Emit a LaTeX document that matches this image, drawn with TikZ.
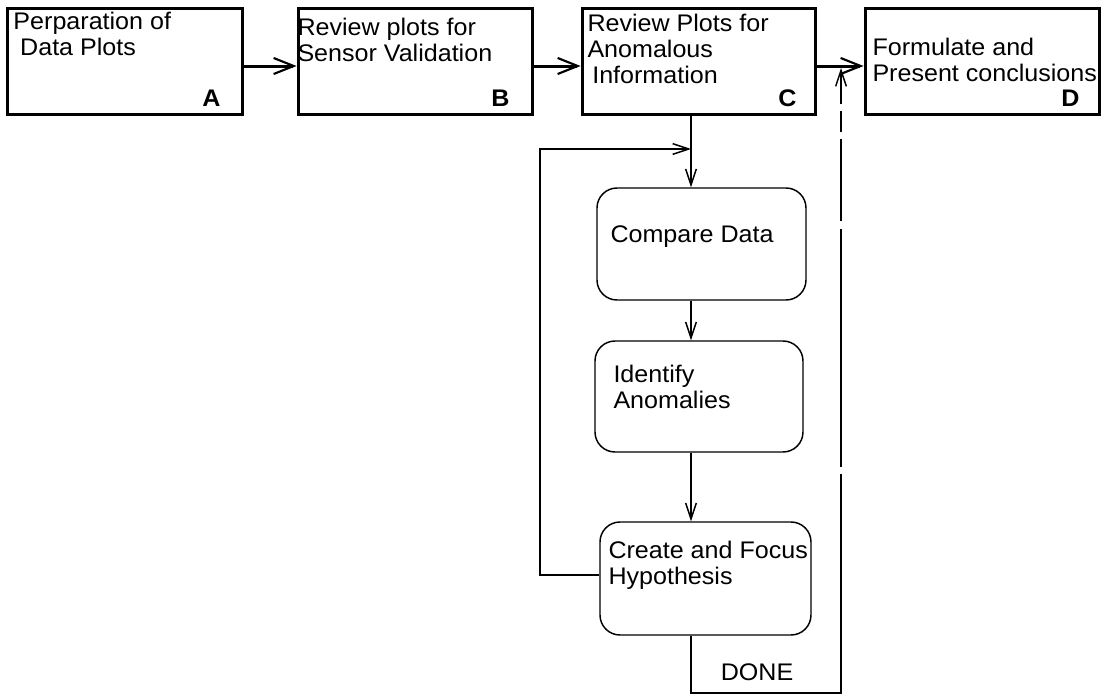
\documentclass[tikz,border=0pt]{standalone}
\usepackage{fontspec}
\setmainfont{Liberation Sans}[FakeStretch=1.045]
\usetikzlibrary{arrows.meta}

\tikzset{every picture/.style={line width=0.75pt}}
\tikzset{
  stepbox/.style={draw, line width=2.25pt, inner sep=0pt, minimum height=79.5pt},
  taskbox/.style={draw, line width=1.1pt, rounded corners=15pt, inner sep=0pt},
  boxtext/.style={inner sep=0.75pt, anchor=north west, align=left, font=\fontsize{18}{19.5}\selectfont},
  boxletter/.style={inner sep=0pt, anchor=base east, font=\fontsize{18}{19.5}\selectfont\bfseries},
  mainflow/.style={line width=2.25pt, -{Straight Barb[length=15pt,width=12pt,line width=1.6pt]}},
  subflow/.style={line width=1.1pt, -{Straight Barb[length=12pt,width=8pt]}},
  doneflow/.style={subflow, dash pattern=on 319.5pt off 5.25pt on 178.5pt off 6pt on 61.5pt off 5.25pt on 15.75pt off 5.25pt on 60pt},
}

\begin{document}
\begin{tikzpicture}[x=0.75pt,y=0.75pt,yscale=-1,xscale=1]
\useasboundingbox (0,0) rectangle (1104,696);

%Rect [step A]
\node[stepbox, minimum width=176.25pt] (boxA) at (124.5,61) {};
%Rect [step B]
\node[stepbox, minimum width=175.5pt] (boxB) at (415,61) {};
%Rect [step C]
\node[stepbox, minimum width=174.75pt] (boxC) at (698.5,61) {};
%Rect [step D]
\node[stepbox, minimum width=175.5pt] (boxD) at (982,61) {};

%Rounded Rect [compare]
\node[taskbox, minimum width=156.75pt, minimum height=84pt] (compare) at (701.5,244) {};
%Rounded Rect [identify]
\node[taskbox, minimum width=156pt, minimum height=83.25pt] (identify) at (699,396.5) {};
%Rounded Rect [create]
\node[taskbox, minimum width=158.25pt, minimum height=84.75pt] (create) at (705.5,578.5) {};

% Text Node
\node[boxtext] (txtA) at (12,10.5) {Perparation of\\\hspace{0.28em}Data Plots};
% Text Node
\node[boxtext] (txtB) at (296,17) {Review plots for\\Sensor Validation};
% Text Node
\node[boxtext] (txtC) at (586,12.5) {Review Plots for\\Anomalous\\\hspace{0.2em}Information};
% Text Node
\node[boxtext] (txtD) at (871,37) {Formulate and\\Present conclusions};
% Text Node
\node[boxletter] (labA) at (221,106) {A};
\node[boxletter] (labB) at (510,106) {B};
\node[boxletter] (labC) at (797,106) {C};
\node[boxletter] (labD) at (1080,106) {D};
% Text Node
\node[boxtext] (txtcompare) at (609,224) {Compare Data};
% Text Node
\node[boxtext] (txtidentify) at (612,364) {Identify\\Anomalies};
% Text Node
\node[boxtext] (txtcreate) at (607,540) {Create and Focus\\Hypothesis};
% Text Node
\node[boxtext, anchor=center] (done) at (757,672) {DONE};

\coordinate (flow) at (0,66);
\coordinate (loopin) at (691,149);
\coordinate (join) at (841,68);

%Straight Lines [main flow]
\draw[mainflow] (boxA.east |- flow) -- (boxB.west |- flow);
\draw[mainflow] (boxB.east |- flow) -- (boxC.west |- flow);
\draw[mainflow] (boxC.east |- flow) -- (boxD.west |- flow);

%Straight Lines [inner loop]
\draw[subflow] (boxC.south -| loopin) -- (compare.north -| loopin);
\draw[subflow] (compare.south -| loopin) -- (identify.north -| loopin);
\draw[subflow] (identify.south -| loopin) -- (create.north -| loopin);
\draw[subflow] (create.west |- 0,575) -| (540,149) -- (loopin);

%Straight Lines [done]
\draw[doneflow] (create.south -| loopin) |- (join |- 0,693) -- (join);

\end{tikzpicture}
\end{document}
